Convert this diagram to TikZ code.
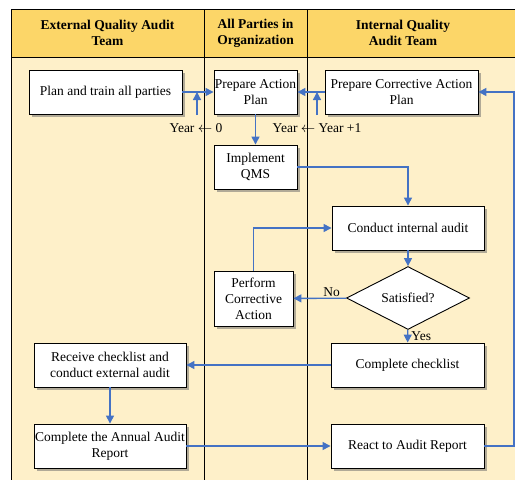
\documentclass[tikz,border=0pt]{standalone}
\usepackage{fontspec}
\setmainfont{Liberation Serif}
\usetikzlibrary{shapes.geometric,shadows,arrows.meta}
\definecolor{hdr}{RGB}{252,214,104}
\definecolor{bodyc}{RGB}{254,240,201}
\definecolor{arrblue}{RGB}{68,114,196}
\newcommand{\larr}{$\leftarrow$}
\begin{document}
\begin{tikzpicture}[x=1pt,y=-1pt,
  box/.style={draw=black, line width=0.9pt, fill=white, align=center, inner sep=0pt,
    minimum height=44pt, font=\fontsize{13.5}{16}\selectfont,
    drop shadow={shadow xshift=2.5pt, shadow yshift=-2.5pt, fill=black!60, opacity=0.5}},
  dia/.style={diamond, draw=black, line width=0.9pt, fill=white, minimum width=123pt,
    minimum height=48pt, inner sep=0pt, font=\fontsize{13.5}{16}\selectfont},
  hdrtext/.style={align=center, font=\bfseries\fontsize{13.5}{16}\selectfont},
  lbl/.style={inner sep=1pt, font=\fontsize{13.5}{16}\selectfont},
  arr/.style={draw=arrblue, line width=1.4pt, -{Triangle[length=8pt,width=8pt]}},
  lane/.style={draw=black, line width=0.8pt}]
\useasboundingbox (0,0) rectangle (515,480);
\begin{scope}
\clip (0,0) rectangle (515,480);
\fill[bodyc] (11,57) rectangle (540,500);
\fill[hdr] (11,9) rectangle (540,57);
\draw[lane] (11,500) -- (11,9) -- (540,9);
\draw[lane] (11,57) -- (540,57);
\draw[lane] (204,9) -- (204,500);
\draw[lane] (307,9) -- (307,500);
\end{scope}
\node[hdrtext] (h1) at (107.5,33) {External Quality Audit\\Team};
\node[hdrtext] (h2) at (255.5,33) {All Parties in\\Organization};
\node[hdrtext] (h3) at (403,33) {Internal Quality\\Audit Team};

\node[box, minimum width=153pt] (plan) at (105.5,92) {Plan and train all parties};
\node[box, minimum width=83pt] (pap) at (255.5,92) {Prepare Action\\Plan};
\node[box, minimum width=153pt] (pcap) at (401.5,92) {Prepare Corrective Action\\Plan};
\node[box, minimum width=83pt] (qms) at (255.5,167) {Implement\\QMS};
\node[box, minimum width=152pt] (cia) at (408,228) {Conduct internal audit};
\node[dia] (sat) at (408,298) {Satisfied?};
\node[box, minimum width=79pt, minimum height=55pt] (pca) at (253.5,298.5) {Perform\\Corrective\\Action};
\node[box, minimum width=153pt] (cc) at (407.5,365) {Complete checklist};
\node[box, minimum width=152pt] (rc) at (110,365) {Receive checklist and\\conduct external audit};
\node[box, minimum width=152pt] (car) at (110,446) {Complete the Annual Audit\\Report};
\node[box, minimum width=153pt] (rar) at (407.5,446) {React to Audit Report};

\node[lbl] (y0) at (196,128) {Year \larr{} 0};
\node[lbl] (y1) at (317,128) {Year \larr{} Year +1};
\coordinate (y0s) at (197,115);
\coordinate (y1s) at (317,115);
\coordinate (rr) at (514,446);

\draw[arr] (plan) -- (pap);
\draw[arr] (pcap) -- (pap);
\draw[arr] (y0s) -- (y0s |- plan.east);
\draw[arr] (y1s) -- (y1s |- pcap.west);
\draw[arr] (pap) -- (qms);
\draw[arr] (qms.east) -| (cia.north);
\draw[arr] (cia) -- (sat);
\draw[arr] (sat) -- node[lbl, above, pos=0.28] (nolab) {No} (pca);
\draw[arr] (pca.north) |- (cia.west);
\draw[arr] (sat) -- node[lbl, right, inner sep=3pt] (yeslab) {Yes} (cc);
\draw[arr] (cc.west) -- (cc.west -| rc.east);
\draw[arr] (rc) -- (car);
\draw[arr] (car) -- (rar);
\draw[arr] (rar.east) -- (rr) |- (pcap.east);
\end{tikzpicture}
\end{document}
